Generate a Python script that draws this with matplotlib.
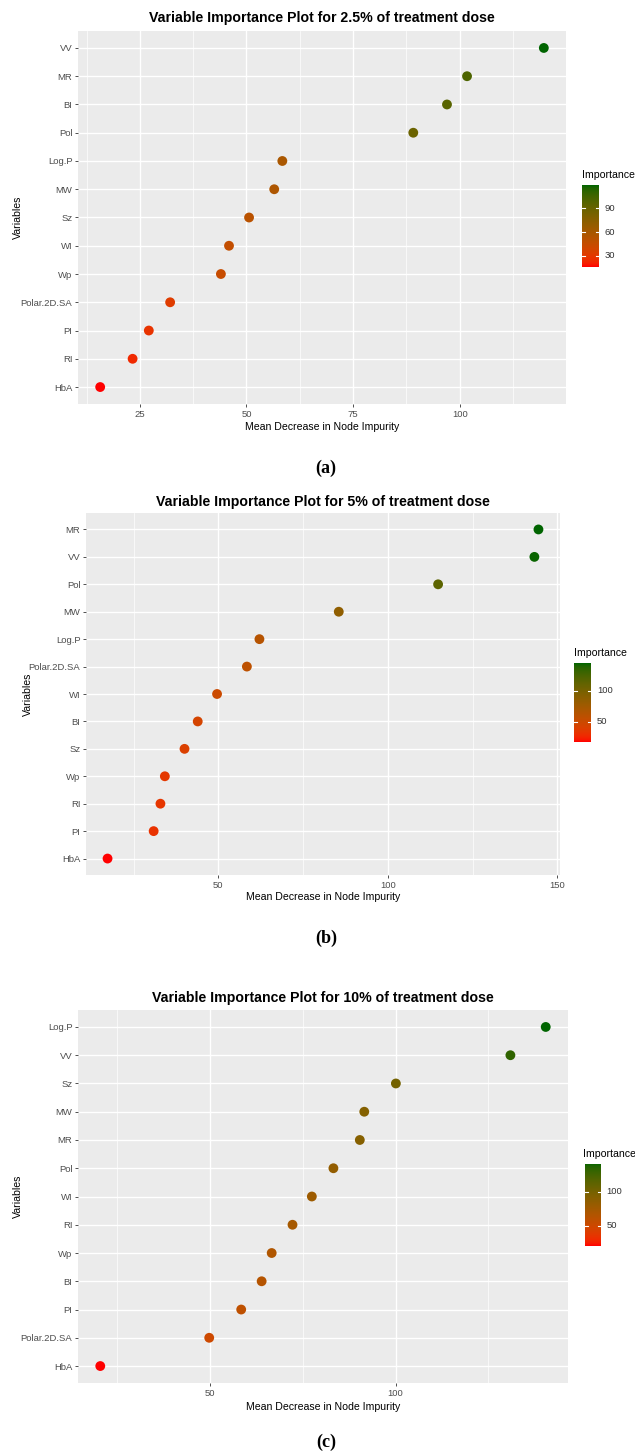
import numpy as np
import matplotlib
matplotlib.use("Agg")
import matplotlib.pyplot as plt
from matplotlib.colors import ListedColormap, Normalize

W, H = 635, 1452

# panel (a): 2.5% dose, top to bottom
vars_a = ["VV", "MR", "BI", "Pol", "Log.P", "MW", "Sz", "WI", "Wp",
          "Polar.2D.SA", "PI", "RI", "HbA"]
vals_a = [119.7, 101.7, 97.0, 89.1, 58.4, 56.5, 50.6, 45.9, 44.0,
          32.1, 27.1, 23.3, 15.7]
xticks_a = [25, 50, 75, 100]
cticks_a = [30, 60, 90]

# panel (b): 5% dose
vars_b = ["MR", "VV", "Pol", "MW", "Log.P", "Polar.2D.SA", "WI", "BI", "Sz",
          "Wp", "RI", "PI", "HbA"]
vals_b = [144.4, 143.2, 114.8, 85.5, 62.1, 58.4, 49.6, 43.9, 40.0,
          34.2, 32.9, 30.9, 17.3]
xticks_b = [50, 100, 150]
cticks_b = [50, 100]

# panel (c): 10% dose
vars_c = ["Log.P", "VV", "Sz", "MW", "MR", "Pol", "WI", "RI", "Wp", "BI",
          "PI", "Polar.2D.SA", "HbA"]
vals_c = [140.4, 130.9, 100.1, 91.6, 90.4, 83.3, 77.5, 72.3, 66.7, 64.0,
          58.5, 49.9, 20.6]
xticks_c = [50, 100]
cticks_c = [50, 100]

titles = ["Variable Importance Plot for 2.5% of treatment dose",
          "Variable Importance Plot for 5% of treatment dose",
          "Variable Importance Plot for 10% of treatment dose"]
captions = ["(a)", "(b)", "(c)"]


# ggplot-style red -> darkgreen gradient, interpolated in Lab
def _lin(c):
    return np.where(c <= 0.04045, c / 12.92, ((c + 0.055) / 1.055) ** 2.4)


def _gam(c):
    c = np.clip(c, 0, 1)
    return np.where(c <= 0.0031308, 12.92 * c, 1.055 * c ** (1 / 2.4) - 0.055)


M = np.array([[0.4124, 0.3576, 0.1805],
              [0.2126, 0.7152, 0.0722],
              [0.0193, 0.1192, 0.9505]])
WHITE = np.array([0.95047, 1.0, 1.08883])


def to_lab(rgb):
    xyz = M @ _lin(np.asarray(rgb)) / WHITE
    f = np.where(xyz > 0.008856, np.cbrt(xyz), 7.787 * xyz + 16 / 116)
    return np.array([116 * f[1] - 16, 500 * (f[0] - f[1]), 200 * (f[1] - f[2])])


def from_lab(lab):
    fy = (lab[..., 0] + 16) / 116
    fx = fy + lab[..., 1] / 500
    fz = fy - lab[..., 2] / 200
    f = np.stack([fx, fy, fz], axis=-1)
    xyz = np.where(f > 0.206893, f ** 3, (f - 16 / 116) / 7.787) * WHITE
    return _gam(xyz @ np.linalg.inv(M).T)


lo, hi = to_lab([1.0, 0.0, 0.0]), to_lab([0.0, 100 / 255, 0.0])
t = np.linspace(0, 1, 256)[:, None]
cmap = ListedColormap(from_lab(lo + (hi - lo) * t))


def frac(x0, y0, x1, y1):
    return [x0 / W, 1 - y1 / H, (x1 - x0) / W, (y1 - y0) / H]


layout = [
    dict(panel=(78, 31, 566, 404), title_y=18, ylab_x=18, xlab_y=427,
         cap_y=468, leg=(582, 185, 599, 267), leg_title=(582, 175)),
    dict(panel=(86, 513, 560, 875), title_y=502, ylab_x=28, xlab_y=897,
         cap_y=938, leg=(574, 663, 591, 742), leg_title=(574, 653)),
    dict(panel=(78, 1010, 568, 1383), title_y=998, ylab_x=18, xlab_y=1407,
         cap_y=1442, leg=(585, 1164, 601, 1246), leg_title=(583, 1154)),
]

plt.rcParams["font.family"] = ["Liberation Sans", "DejaVu Sans"]
fig = plt.figure(figsize=(W / 100, H / 100), dpi=100)

panels = [(vars_a, vals_a, xticks_a, cticks_a),
          (vars_b, vals_b, xticks_b, cticks_b),
          (vars_c, vals_c, xticks_c, cticks_c)]

for i, (names, vals, xt, ct) in enumerate(panels):
    L = layout[i]
    vals = np.array(vals)
    n = len(names)
    ypos = np.arange(n)[::-1]
    vmin, vmax = vals.min(), vals.max()
    pad = 0.05 * (vmax - vmin)
    norm = Normalize(vmin, vmax)

    ax = fig.add_axes(frac(*L["panel"]))
    ax.set_facecolor("#EBEBEB")
    for s in ax.spines.values():
        s.set_visible(False)
    ax.set_xlim(vmin - pad, vmax + pad)
    ax.set_ylim(-0.6, n - 0.4)

    # minor gridlines halfway between major ticks
    step = xt[1] - xt[0]
    minors = np.arange(xt[0] - step / 2, vmax + pad, step)
    for m in minors:
        ax.axvline(m, color="white", lw=0.5, zorder=0)
    for x in xt:
        ax.axvline(x, color="white", lw=1.0, zorder=0)
    for y in ypos:
        ax.axhline(y, color="white", lw=1.0, zorder=0)

    ax.scatter(vals, ypos, c=vals, cmap=cmap, norm=norm, s=50,
               edgecolors="none", zorder=3)

    ax.set_xticks(xt)
    ax.set_xticklabels([str(x) for x in xt])
    ax.set_yticks(ypos)
    ax.set_yticklabels(names)
    ax.tick_params(axis="both", length=2.5, width=0.6, color="#333333",
                   labelcolor="#4D4D4D", labelsize=6.8, pad=1.5)

    cx = (L["panel"][0] + L["panel"][2]) / 2
    cy = (L["panel"][1] + L["panel"][3]) / 2
    fig.text(cx / W, 1 - L["title_y"] / H, titles[i], ha="center", va="center",
             fontsize=10.2, fontweight="bold")
    fig.text(cx / W, 1 - L["xlab_y"] / H, "Mean Decrease in Node Impurity",
             ha="center", va="center", fontsize=7.6)
    fig.text(L["ylab_x"] / W, 1 - cy / H, "Variables", ha="center", va="center",
             rotation=90, fontsize=7.6)
    fig.text(326 / W, 1 - L["cap_y"] / H, captions[i], ha="center", va="center",
             fontsize=13, fontweight="bold", family="Liberation Serif")

    # colourbar legend
    cax = fig.add_axes(frac(*L["leg"]))
    grad = np.linspace(vmin, vmax, 200)[:, None]
    cax.imshow(grad, cmap=cmap, norm=norm, aspect="auto", origin="lower",
               extent=(0, 1, vmin, vmax))
    cax.set_xlim(0, 1)
    cax.set_ylim(vmin, vmax)
    for s in cax.spines.values():
        s.set_visible(False)
    cax.set_xticks([])
    cax.set_yticks([])
    for c in ct:
        cax.plot([0, 0.2], [c, c], color="white", lw=0.8)
        cax.plot([0.8, 1], [c, c], color="white", lw=0.8)
        cax.text(1.35, c, str(c), transform=cax.get_yaxis_transform(),
                 ha="left", va="center", fontsize=6.8, color="#333333")
    lx, ly = L["leg_title"]
    fig.text(lx / W, 1 - ly / H, "Importance", ha="left", va="center", fontsize=7.6)

fig.savefig("out.png", dpi=100)
